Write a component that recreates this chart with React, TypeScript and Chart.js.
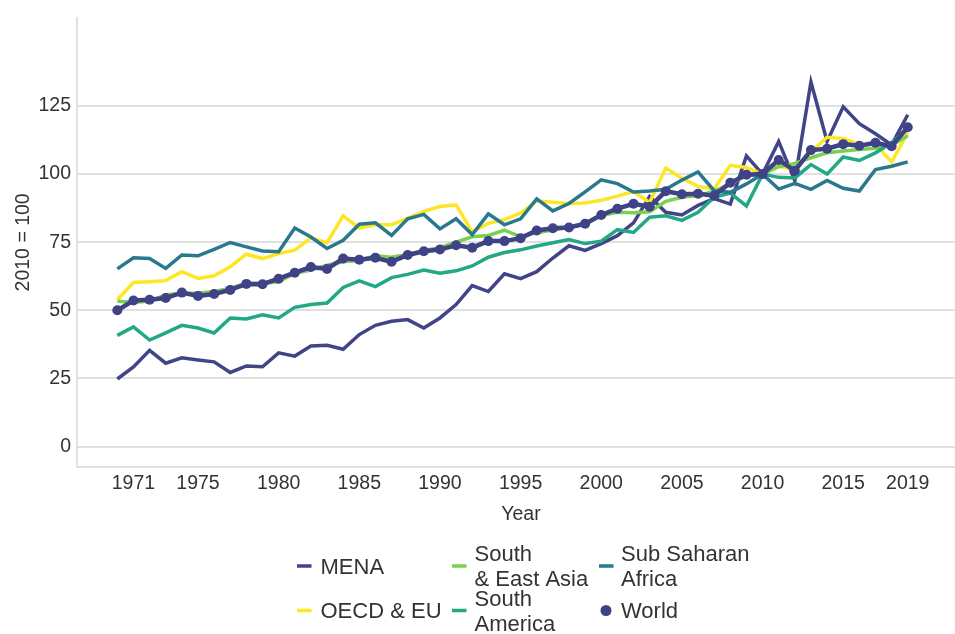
import React, { useEffect, useRef } from "react";
import { Chart, registerables } from "chart.js";

Chart.register(...registerables);

// ---------- data ----------
const YEARS = [
  1970, 1971, 1972, 1973, 1974, 1975, 1976, 1977, 1978, 1979,
  1980, 1981, 1982, 1983, 1984, 1985, 1986, 1987, 1988, 1989,
  1990, 1991, 1992, 1993, 1994, 1995, 1996, 1997, 1998, 1999,
  2000, 2001, 2002, 2003, 2004, 2005, 2006, 2007, 2008, 2009,
  2010, 2011, 2012, 2013, 2014, 2015, 2016, 2017, 2018, 2019,
];
const TICK_YEARS = [1971, 1975, 1980, 1985, 1990, 1995, 2000, 2005, 2010, 2015, 2019];
const Y_TICKS = [0, 25, 50, 75, 100, 125];

const MENA = [
  24.8, 29.2, 35.3, 30.6, 32.6, 31.8, 31.1, 27.2, 29.6, 29.3,
  34.4, 33.2, 36.9, 37.2, 35.7, 41.1, 44.5, 46.0, 46.6, 43.5,
  47.2, 52.1, 59.1, 56.9, 63.4, 61.6, 64.2, 69.2, 73.7, 72.0,
  74.5, 77.4, 82.1, 91.8, 86.0, 85.0, 88.5, 91.0, 89.0, 106.7,
  100, 112.0, 97.6, 133.8, 112.0, 124.7, 118.5, 114.8, 110.7, 121.8,
];
const OECD_EU = [
  53.9, 60.2, 60.5, 60.9, 64.2, 61.7, 62.7, 66.0, 70.6, 69.0,
  70.8, 72.1, 76.6, 74.8, 84.7, 80.2, 81.4, 81.4, 83.8, 86.3,
  88.1, 88.7, 78.8, 81.9, 83.3, 85.7, 90.1, 89.7, 89.2, 89.4,
  90.4, 91.9, 93.6, 89.6, 102.2, 98.5, 95.5, 94.5, 103.2, 102.4,
  100, 103.0, 101.6, 108.2, 113.5, 113.1, 110.9, 110.9, 104.5, 115.1,
];
const SOUTH_EAST_ASIA = [
  53.3, 53.0, 53.3, 55.7, 56.3, 56.3, 56.9, 58.1, 59.9, 59.9,
  60.5, 63.6, 64.8, 66.6, 67.8, 68.4, 70.0, 69.5, 70.5, 72.0,
  73.0, 75.0, 77.0, 77.5, 79.4, 77.0, 78.5, 79.5, 80.5, 81.5,
  84.8, 86.0, 85.8, 86.2, 90.0, 91.5, 92.1, 93.7, 96.5, 99.4,
  100, 102.7, 103.9, 106.0, 107.8, 108.5, 109.0, 109.5, 110.6, 114.1,
];
const SOUTH_AMERICA = [
  40.8, 43.9, 39.1, 41.7, 44.5, 43.5, 41.7, 47.2, 46.8, 48.4,
  47.2, 51.1, 52.1, 52.7, 58.4, 60.8, 58.7, 62.0, 63.2, 64.8,
  63.6, 64.5, 66.3, 69.5, 71.2, 72.2, 73.6, 74.8, 76.0, 74.5,
  75.4, 79.6, 78.6, 84.2, 84.7, 83.0, 86.0, 91.5, 93.0, 88.3,
  100, 98.8, 98.6, 103.5, 100.0, 106.3, 105.0, 107.8, 111.5, 116.8,
];
const SUB_SAHARAN_AFRICA = [
  65.2, 69.3, 69.0, 65.4, 70.3, 70.0, 72.4, 74.9, 73.3, 71.8,
  71.5, 80.2, 76.9, 72.7, 75.7, 81.6, 82.1, 77.5, 83.6, 85.2,
  79.9, 83.6, 77.8, 85.4, 81.4, 83.6, 90.9, 86.5, 89.2, 93.5,
  97.9, 96.5, 93.4, 93.8, 94.4, 97.8, 100.8, 93.9, 93.3, 96.4,
  100, 94.5, 96.6, 94.4, 97.7, 94.8, 93.8, 101.7, 102.9, 104.5,
];
const WORLD = [
  50, 53.6, 53.9, 54.5, 56.5, 55.3, 56.0, 57.5, 59.7, 59.6,
  61.6, 63.8, 65.9, 65.2, 69.0, 68.6, 69.3, 67.8, 70.3, 71.7,
  72.3, 73.9, 73.0, 75.4, 75.4, 76.5, 79.3, 80.1, 80.4, 81.8,
  85.0, 87.3, 89.1, 88.0, 93.7, 92.6, 92.8, 92.1, 96.8, 99.8,
  100, 105.2, 101.2, 108.8, 109.3, 111.0, 110.4, 111.5, 110.2, 117.2,
];

const SERIES_LABELS = [
  "MENA",
  "OECD & EU",
  "South\n& East Asia",
  "South\nAmerica",
  "Sub Saharan\nAfrica",
  "World",
];
const SERIES_VALUES = [MENA, OECD_EU, SOUTH_EAST_ASIA, SOUTH_AMERICA, SUB_SAHARAN_AFRICA, WORLD];
const SERIES_COLORS = ["#414487", "#fde725", "#7ad151", "#22a884", "#2a788e", "#3f4286"];
const SERIES_DRAW_ORDER = [5, 4, 3, 2, 1, 0];

// ---------- layout / style ----------
const FONT_FAMILY = '"Liberation Sans", Arial, Helvetica, sans-serif';
const TEXT_COLOR = "#333333";
const GRID_COLOR = "#e0e0e0";
const CANVAS_W = 970;
const CANVAS_H = 634;
const LEGEND_COL_X = [297, 452, 599];
const LEGEND_TEXT_X = [320.5, 474.5, 621];
const LEGEND_ROW_Y = [566, 610.5];
const LEGEND_FONT_SIZE = 22;
const LEGEND_LINE_H = 25;

const legendPlugin = {
  id: "customLegend",
  afterDraw(chart: any) {
    const ctx = chart.ctx as CanvasRenderingContext2D;
    ctx.save();
    ctx.font = `${LEGEND_FONT_SIZE}px ${FONT_FAMILY}`;
    ctx.textAlign = "left";
    ctx.textBaseline = "alphabetic";
    chart.data.datasets.forEach((ds: any, k: number) => {
      const col = Math.floor(k / 2);
      const row = k % 2;
      const sx = LEGEND_COL_X[col];
      const cy = LEGEND_ROW_Y[row];
      ctx.fillStyle = ds.borderColor;
      if (ds.pointRadius > 0) {
        ctx.beginPath();
        ctx.arc(sx + 7, cy, 5.5, 0, Math.PI * 2);
        ctx.fill();
      } else {
        ctx.fillRect(sx, cy - 1.75, 14.5, 3.5);
      }
      ctx.fillStyle = TEXT_COLOR;
      const lines = String(ds.label).split("\n");
      const n = lines.length;
      lines.forEach((t: string, j: number) => {
        const ly = cy + (j - (n - 1) / 2) * LEGEND_LINE_H;
        ctx.fillText(t, LEGEND_TEXT_X[col], ly + 0.358 * LEGEND_FONT_SIZE);
      });
    });
    ctx.restore();
  },
};

export default function App() {
  const canvasRef = useRef<HTMLCanvasElement | null>(null);

  useEffect(() => {
    const canvas = canvasRef.current;
    if (!canvas) return;

    const datasets = SERIES_LABELS.map((label, s) => {
      const isWorld = label === "World";
      return {
        label,
        data: SERIES_VALUES[s].map((v, i) => ({ x: YEARS[i], y: v })),
        borderColor: SERIES_COLORS[s],
        backgroundColor: SERIES_COLORS[s],
        borderWidth: isWorld ? 4.5 : 3.5,
        pointRadius: isWorld ? 5 : 0,
        pointHoverRadius: isWorld ? 5 : 0,
        pointBorderWidth: 0,
        pointBackgroundColor: SERIES_COLORS[s],
        tension: 0,
        fill: false,
        order: SERIES_DRAW_ORDER[s],
      };
    });

    const chart = new Chart(canvas, {
      type: "line",
      data: { datasets },
      options: {
        animation: false,
        responsive: false,
        devicePixelRatio: 1,
        layout: { padding: { top: 14, right: 5, bottom: 0, left: 0 } },
        plugins: {
          legend: { display: false },
          tooltip: { enabled: false },
        },
        scales: {
          x: {
            type: "linear",
            min: 1967.5,
            max: 2022.55,
            afterFit: (scale: any) => {
              scale.height = 167;
            },
            afterBuildTicks: (scale: any) => {
              scale.ticks = TICK_YEARS.map((v) => ({ value: v }));
            },
            ticks: {
              autoSkip: false,
              maxRotation: 0,
              padding: 4.6,
              color: TEXT_COLOR,
              font: { family: FONT_FAMILY, size: 19.5 },
              callback: (v: any) => String(v),
            },
            grid: { display: false, drawTicks: false },
            border: { display: true, color: GRID_COLOR, width: 2 },
            title: {
              display: true,
              text: "Year",
              color: TEXT_COLOR,
              font: { family: FONT_FAMILY, size: 19.5 },
              padding: { top: 0, bottom: 108 },
            },
          },
          y: {
            type: "linear",
            min: -7.5,
            max: 157.4,
            afterFit: (scale: any) => {
              scale.width = 77;
            },
            afterBuildTicks: (scale: any) => {
              scale.ticks = Y_TICKS.map((v) => ({ value: v }));
            },
            ticks: {
              padding: 6,
              color: TEXT_COLOR,
              font: { family: FONT_FAMILY, size: 19.5 },
              callback: (v: any) => String(v),
            },
            grid: { display: true, drawTicks: false, color: GRID_COLOR, lineWidth: 2 },
            border: { display: true, color: GRID_COLOR, width: 2 },
            title: {
              display: true,
              text: "2010 = 100",
              color: TEXT_COLOR,
              font: { family: FONT_FAMILY, size: 19.5 },
              padding: { top: 12, bottom: 0 },
            },
          },
        },
      },
      plugins: [legendPlugin],
    } as any);

    return () => {
      chart.destroy();
    };
  }, []);

  return (
    <div
      style={{
        position: "fixed",
        left: 0,
        top: 0,
        width: 955,
        height: 634,
        overflow: "hidden",
        background: "#ffffff",
      }}
    >
      <canvas
        ref={canvasRef}
        width={CANVAS_W}
        height={CANVAS_H}
        style={{ display: "block", width: CANVAS_W, height: CANVAS_H }}
      />
    </div>
  );
}
